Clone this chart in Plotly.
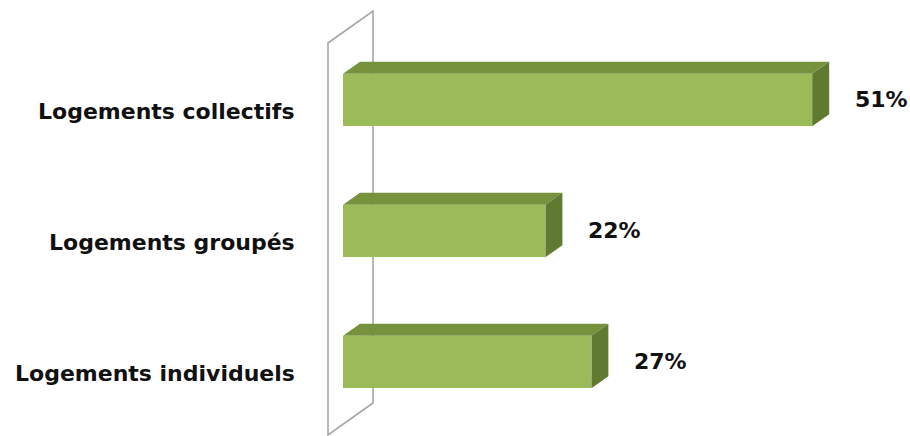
import plotly.graph_objects as go

# ---- data ----
categories = ["Logements individuels", "Logements groupés", "Logements collectifs"]
values = [27, 22, 51]
value_labels = ["27%", "22%", "51%"]

# ---- layout constants (pixels) ----
W, H = 910, 436
PX_PER_PCT = 9.2          # horizontal scale
X0_PX = 343               # pixel column of value 0
ROW_PX = 131              # pixel distance between categories
FIRST_CENTER_PX = 362     # pixel row of the first (bottom) category centre
BAR_W = 0.40              # bar thickness in category units
DEPTH_X_PX, DEPTH_Y_PX = 17, 12

FRONT = "#9BBB59"
TOP = "#76923C"
SIDE = "#617A31"
WALL = "#A6A6A6"
FONT = "DejaVu Sans"

x_min = -X0_PX / PX_PER_PCT
x_max = (W - X0_PX) / PX_PER_PCT
y_min = -(H - FIRST_CENTER_PX) / ROW_PX
y_max = y_min + H / ROW_PX
DX = DEPTH_X_PX / PX_PER_PCT
DY = DEPTH_Y_PX / ROW_PX


def px_to_data(px, py):
    return (px - X0_PX) / PX_PER_PCT, y_min + (H - py) / ROW_PX


def path(points):
    return "M " + " L ".join(f"{x},{y}" for x, y in points) + " Z"


ypos = list(range(len(categories)))

fig = go.Figure()
fig.add_trace(go.Bar(
    x=values, y=ypos, orientation="h", width=BAR_W,
    marker=dict(color=FRONT, line=dict(width=0)),
    hoverinfo="skip", showlegend=False,
))

shapes = []
# back wall (category axis plane)
wall_px = [(328, 43), (373, 11), (373, 403), (328, 435)]
shapes.append(dict(type="path", path=path([px_to_data(*p) for p in wall_px]),
                   xref="x", yref="y", line=dict(color=WALL, width=1.6),
                   fillcolor="rgba(0,0,0,0)", layer="below"))

for i, v in zip(ypos, values):
    top_y = i + BAR_W / 2
    bot_y = i - BAR_W / 2
    shapes.append(dict(type="path", xref="x", yref="y", layer="above",
                       path=path([(0, top_y), (DX, top_y + DY), (v + DX, top_y + DY), (v, top_y)]),
                       fillcolor=TOP, line=dict(width=0)))
    shapes.append(dict(type="path", xref="x", yref="y", layer="above",
                       path=path([(v, bot_y), (v + DX, bot_y + DY), (v + DX, top_y + DY), (v, top_y)]),
                       fillcolor=SIDE, line=dict(width=0)))

annotations = []
for i, c in zip(ypos, categories):
    annotations.append(dict(x=0, y=i, xref="x", yref="y", text=f"<b>{c}</b>",
                            showarrow=False, xanchor="right", yanchor="middle",
                            xshift=-46, yshift=-11,
                            font=dict(family=FONT, size=22, color="#111111")))
for i, v, t in zip(ypos, values, value_labels):
    annotations.append(dict(x=v, y=i, xref="x", yref="y", text=f"<b>{t}</b>",
                            showarrow=False, xanchor="left", yanchor="middle",
                            xshift=41, yshift=1,
                            font=dict(family=FONT, size=22, color="#111111")))

fig.update_layout(
    width=W, height=H,
    margin=dict(l=0, r=0, t=0, b=0),
    paper_bgcolor="white", plot_bgcolor="white",
    xaxis=dict(range=[x_min, x_max], visible=False, fixedrange=True),
    yaxis=dict(range=[y_min, y_max], visible=False, fixedrange=True),
    shapes=shapes, annotations=annotations,
    bargap=0,
)

fig.write_html("out.html")
